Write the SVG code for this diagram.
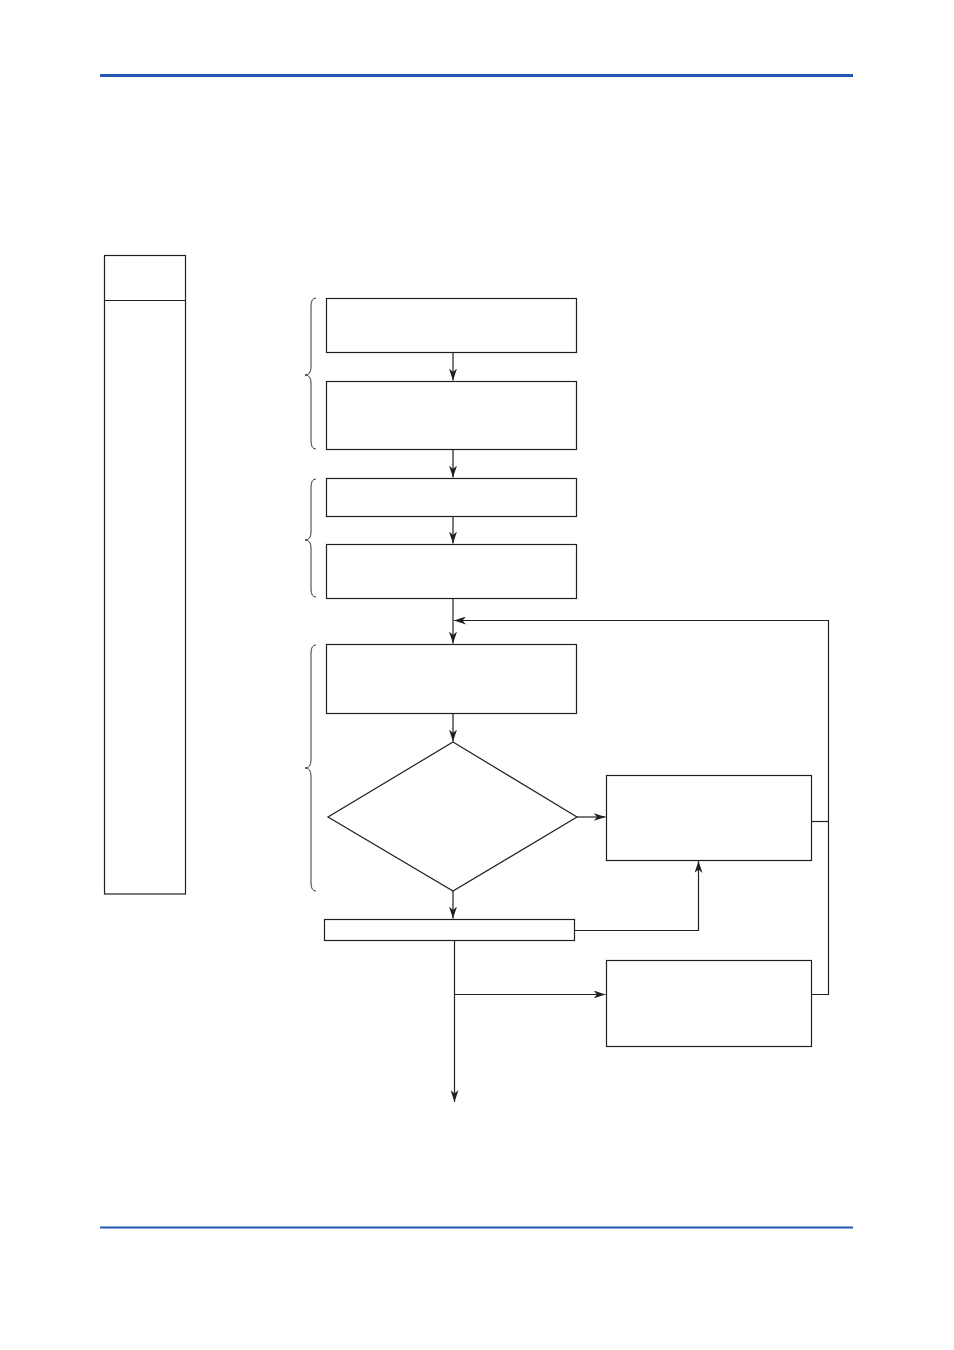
<svg xmlns="http://www.w3.org/2000/svg" width="954" height="1350" viewBox="0 0 954 1350">
<style>
.n{fill:#fff;stroke:#231f20;stroke-width:1.2}
.c{fill:none;stroke:#231f20;stroke-width:1.2}
.b{fill:none;stroke:#231f20;stroke-width:0.9}
.rule{stroke:#2159b4}
</style>
<defs>
<marker id="ah" viewBox="0 0 12 8" refX="12" refY="4" markerWidth="12" markerHeight="8" markerUnits="userSpaceOnUse" orient="auto">
<path d="M0,0 L12,4 L0,8 L3.5,4 z" fill="#231f20"/>
</marker>
</defs>
<rect width="954" height="1350" fill="#fff"/>
<line class="rule" x1="100" y1="75.5" x2="853" y2="75.5" stroke-width="3"/>
<line class="rule" x1="100" y1="1227.5" x2="853" y2="1227.5" stroke-width="2"/>
<g id="legend">
<rect class="n" x="104.5" y="255.5" width="81" height="638.5"/>
<line class="c" x1="104.5" y1="300.5" x2="185.5" y2="300.5"/>
</g>
<g id="braces">
<path class="b" d="M316,298 Q311,298 311,306 L311,367 Q311,375 305,375 Q311,375 311,383 L311,441 Q311,449 316,449"/>
<path class="b" d="M316,479 Q311,479 311,487 L311,532 Q311,540 305,540 Q311,540 311,548 L311,589 Q311,597 316,597"/>
<path class="b" d="M316,645 Q311,645 311,653 L311,760 Q311,768 305,768 Q311,768 311,776 L311,883 Q311,891 316,891"/>
</g>
<g id="box1"><rect class="n" x="326.5" y="298.5" width="250" height="54"/></g>
<g id="box2"><rect class="n" x="326.5" y="381.5" width="250" height="68"/></g>
<g id="box3"><rect class="n" x="326.5" y="478.5" width="250" height="38"/></g>
<g id="box4"><rect class="n" x="326.5" y="544.5" width="250" height="54"/></g>
<g id="box5"><rect class="n" x="326.5" y="644.5" width="250" height="69"/></g>
<g id="decision"><polygon class="n" points="453,742 577,817 453,891 328,817" stroke-width="1"/></g>
<g id="bar"><rect class="n" x="324.5" y="919.5" width="250" height="21"/></g>
<g id="box6"><rect class="n" x="606.5" y="775.5" width="205" height="85"/></g>
<g id="box7"><rect class="n" x="606.5" y="960.5" width="205" height="86"/></g>
<g id="connectors">
<line class="c" x1="453" y1="352.5" x2="453" y2="380.5" marker-end="url(#ah)"/>
<line class="c" x1="453" y1="449.5" x2="453" y2="477.5" marker-end="url(#ah)"/>
<line class="c" x1="453" y1="516.5" x2="453" y2="543.5" marker-end="url(#ah)"/>
<line class="c" x1="453" y1="598.5" x2="453" y2="643.5" marker-end="url(#ah)"/>
<line class="c" x1="453" y1="713.5" x2="453" y2="741.5" marker-end="url(#ah)"/>
<line class="c" x1="453" y1="891" x2="453" y2="918.5" marker-end="url(#ah)"/>
<line class="c" x1="577" y1="817" x2="605.5" y2="817" marker-end="url(#ah)"/>
<polyline class="c" points="811.5,821.5 828.5,821.5"/>
<polyline class="c" points="811.5,994.5 828.5,994.5 828.5,620.5 454,620.5" marker-end="url(#ah)"/>
<polyline class="c" points="574.5,930.5 698.5,930.5 698.5,861" marker-end="url(#ah)"/>
<line class="c" x1="454.5" y1="940.5" x2="454.5" y2="1102" marker-end="url(#ah)"/>
<line class="c" x1="454.5" y1="994.5" x2="605.5" y2="994.5" marker-end="url(#ah)"/>
</g>
</svg>
